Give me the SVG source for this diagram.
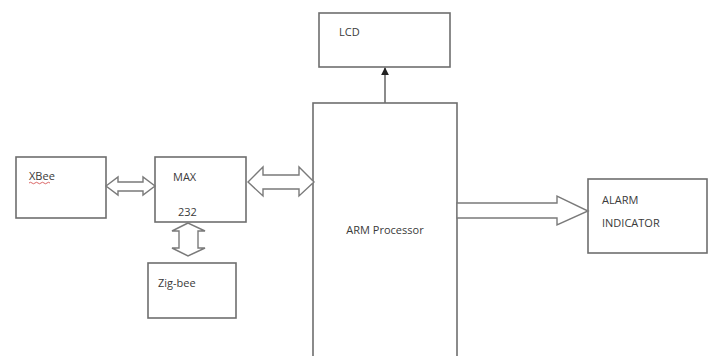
<svg xmlns="http://www.w3.org/2000/svg" width="712" height="356" viewBox="0 0 712 356">
<style>
.box{fill:#fff;stroke:#6e6e6e;stroke-width:1.6}
.blk{fill:#fff;stroke:#7a7a7a;stroke-width:1.4;stroke-linejoin:miter}
text{font-family:"Open Sans","Liberation Sans",sans-serif;font-size:11px;fill:#3a3a3a}
</style>
<defs>
<marker id="ah" viewBox="0 0 10 10" refX="9" refY="5" markerWidth="5" markerHeight="5" orient="auto">
<path d="M0,0 L10,5 L0,10 z" fill="#222"/>
</marker>
</defs>
<rect width="712" height="356" fill="#fff"/>
<g id="xbee"><rect class="box" x="16" y="157" width="90" height="61"/><text x="29" y="180">XBee</text><path d="M29,183 q1.5,-1.5 3,0 t3,0 t3,0 t3,0 t3,0 t3,0 t3,0" fill="none" stroke="#d04040" stroke-width="0.8"/></g>
<g id="max232"><rect class="box" x="155" y="157" width="91" height="65"/><text x="173" y="181">MAX</text><text x="178" y="216">232</text></g>
<g id="zigbee"><rect class="box" x="148" y="263" width="88" height="55"/><text x="158" y="287">Zig-bee</text></g>
<g id="arm"><rect class="box" x="313" y="103" width="144" height="260"/><text x="385" y="234" text-anchor="middle">ARM Processor</text></g>
<g id="lcd"><rect class="box" x="319" y="13" width="131" height="54"/><text x="339" y="36">LCD</text></g>
<g id="alarm"><rect class="box" x="588" y="179" width="119" height="74"/><text x="602" y="204">ALARM</text><text x="602" y="227">INDICATOR</text></g>
<g id="connectors">
<polygon class="blk" points="106,186 118,177 118,182 143,182 143,177 155,186 143,195 143,191 118,191 118,195"/>
<polygon class="blk" points="248,182 263,167 263,175 299,175 299,167 314,182 299,196 299,189 263,189 263,196"/>
<polygon class="blk" points="188,223 172,231 179,231 179,248 172,248 188,256 205,248 198,248 198,231 205,231"/>
<polygon class="blk" points="457,203 557,203 557,196 588,211 557,225 557,218 457,218"/>
<line x1="385" y1="103" x2="385" y2="68" stroke="#6e6e6e" stroke-width="1.6" marker-end="url(#ah)"/>
</g>
</svg>
